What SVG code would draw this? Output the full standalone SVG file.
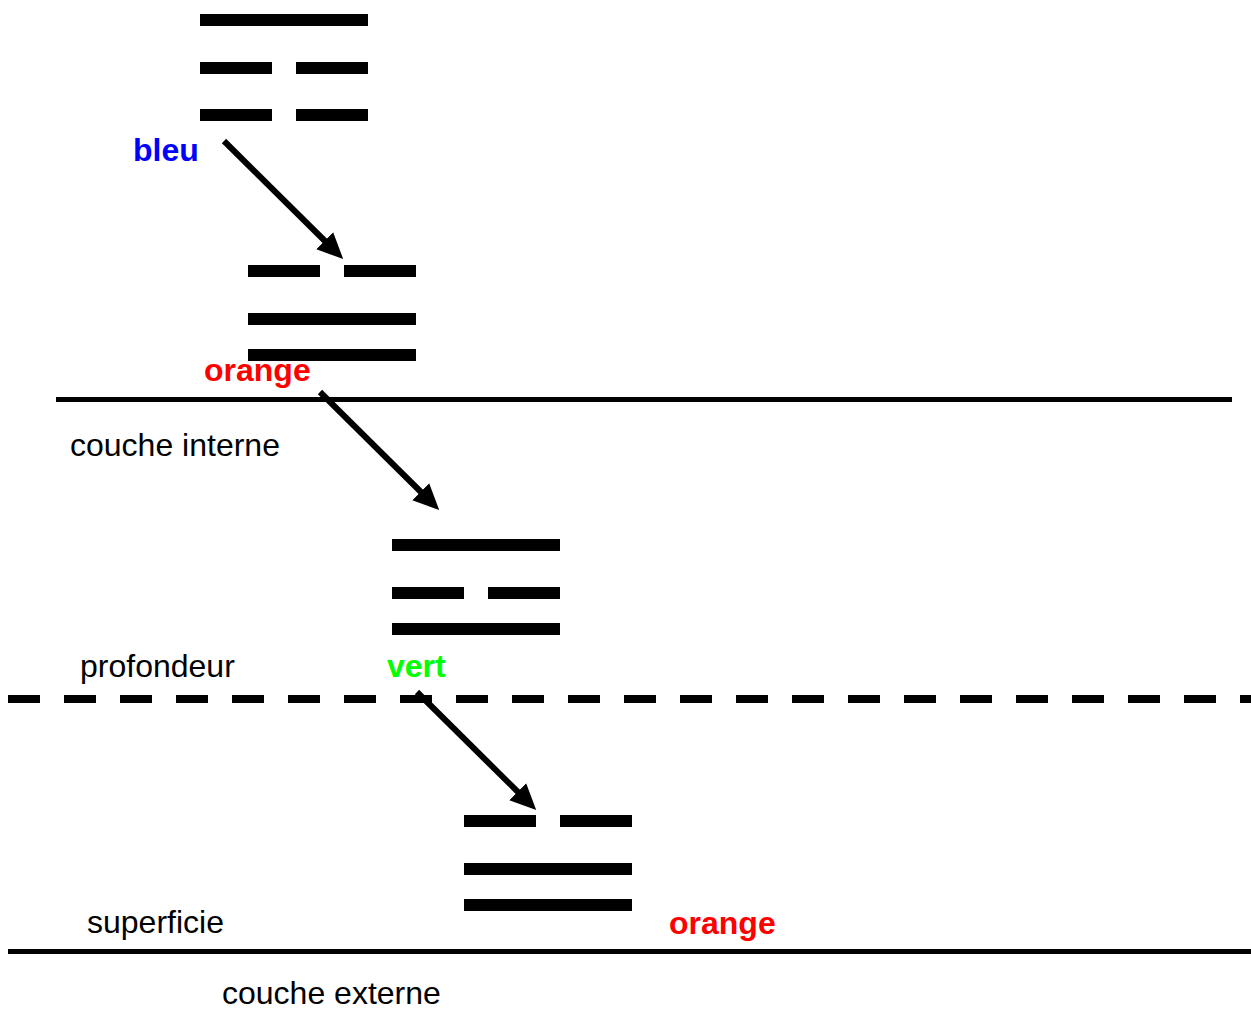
<svg xmlns="http://www.w3.org/2000/svg" width="1251" height="1011" viewBox="0 0 1251 1011">
<style>
.bar{fill:#000}
.lbl{font-family:"Liberation Sans",Arial,sans-serif;font-size:32px;fill:#000}
.b{font-weight:bold}
.conn{stroke:#000;stroke-width:6;fill:none;stroke-linecap:butt}
</style>
<defs>
<marker id="ah" markerUnits="userSpaceOnUse" markerWidth="26" markerHeight="26" viewBox="0 0 26 26" refX="6" refY="13" orient="auto">
<path d="M0,1 L26,13 L0,25 z" fill="#000"/>
</marker>
</defs>
<rect width="1251" height="1011" fill="#fff"/>
<g id="layers">
<rect x="56" y="397" width="1176" height="5" fill="#000"/>
<line x1="8" y1="699" x2="1251" y2="699" stroke="#000" stroke-width="8" stroke-dasharray="32 24"/>
<rect x="8" y="949" width="1243" height="5" fill="#000"/>
</g>
<g id="trigram1">
<rect class="bar" x="200" y="14" width="168" height="12"/>
<rect class="bar" x="200" y="62" width="72" height="12"/>
<rect class="bar" x="296" y="62" width="72" height="12"/>
<rect class="bar" x="200" y="109" width="72" height="12"/>
<rect class="bar" x="296" y="109" width="72" height="12"/>
</g>
<g id="trigram2">
<rect class="bar" x="248" y="265" width="72" height="12"/>
<rect class="bar" x="344" y="265" width="72" height="12"/>
<rect class="bar" x="248" y="313" width="168" height="12"/>
<rect class="bar" x="248" y="349" width="168" height="12"/>
</g>
<g id="trigram3">
<rect class="bar" x="392" y="539" width="168" height="12"/>
<rect class="bar" x="392" y="587" width="72" height="12"/>
<rect class="bar" x="488" y="587" width="72" height="12"/>
<rect class="bar" x="392" y="623" width="168" height="12"/>
</g>
<g id="trigram4">
<rect class="bar" x="464" y="815" width="72" height="12"/>
<rect class="bar" x="560" y="815" width="72" height="12"/>
<rect class="bar" x="464" y="863" width="168" height="12"/>
<rect class="bar" x="464" y="899" width="168" height="12"/>
</g>
<g id="connectors">
<line class="conn" x1="224" y1="141" x2="329" y2="245" marker-end="url(#ah)"/>
<line class="conn" x1="320" y1="392" x2="425" y2="496" marker-end="url(#ah)"/>
<line class="conn" x1="417" y1="692" x2="522" y2="796" marker-end="url(#ah)"/>
</g>
<g id="labels">
<text class="lbl b" x="133" y="161" style="fill:#0000ff">bleu</text>
<text class="lbl b" x="204" y="381" style="fill:#ff0000">orange</text>
<text class="lbl" x="70" y="456">couche interne</text>
<text class="lbl" x="80" y="677">profondeur</text>
<text class="lbl b" x="387" y="677" style="fill:#00ff00">vert</text>
<text class="lbl" x="87" y="933">superficie</text>
<text class="lbl b" x="669" y="934" style="fill:#ff0000">orange</text>
<text class="lbl" x="222" y="1004">couche externe</text>
</g>
</svg>
